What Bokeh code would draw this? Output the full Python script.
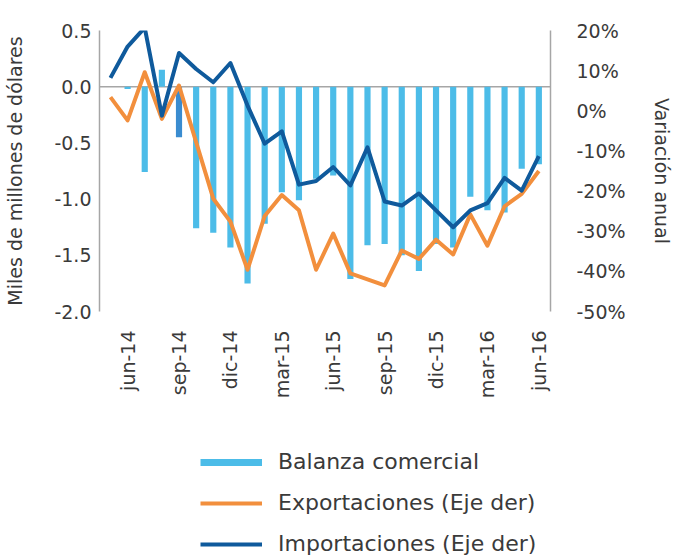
from bokeh.plotting import figure
from bokeh.layouts import column
from bokeh.models import (Range1d, LinearAxis, FixedTicker, Span, Legend, LegendItem,
                          NumeralTickFormatter, PrintfTickFormatter, ColumnDataSource)
from bokeh.embed import file_html
from bokeh.resources import INLINE
from math import pi

# ---------------- data ----------------
months = ["may-14", "jun-14", "jul-14", "ago-14", "sep-14", "oct-14", "nov-14", "dic-14",
          "ene-15", "feb-15", "mar-15", "abr-15", "may-15", "jun-15", "jul-15", "ago-15",
          "sep-15", "oct-15", "nov-15", "dic-15", "ene-16", "feb-16", "mar-16", "abr-16",
          "may-16", "jun-16"]
bar_months = months[1:]
balanza = [-0.02, -0.76, 0.15, -0.45, -1.26, -1.30, -1.43, -1.75, -1.22, -0.94, -1.01, -0.82,
           -0.79, -1.71, -1.41, -1.40, -1.50, -1.64, -1.40, -1.43, -0.98, -1.10, -1.12, -0.73,
           -0.69]
exportaciones = [3.4, -2.4, 9.6, -2.0, 6.3, -7.8, -21.9, -27.6, -39.6, -26.2, -21.0, -24.8,
                 -39.6, -30.6, -40.5, -42.0, -43.5, -34.8, -36.9, -32.1, -35.8, -25.8, -33.6,
                 -23.8, -20.7, -15.0]
importaciones = [8.2, 16.0, 20.7, -1.2, 14.4, 10.4, 7.1, 11.9, 1.3, -8.2, -5.1, -18.4, -17.5,
                 -14.0, -18.6, -9.1, -22.6, -23.6, -20.6, -24.8, -29.0, -24.8, -23.0, -16.7,
                 -19.9, -11.3]
tick_months = ["jun-14", "sep-14", "dic-14", "mar-15", "jun-15", "sep-15", "dic-15",
               "mar-16", "jun-16"]
left_ticks = [0.5, 0.0, -0.5, -1.0, -1.5, -2.0]
right_ticks = [20, 10, 0, -10, -20, -30, -40, -50]
series_names = ["Balanza comercial", "Exportaciones (Eje der)", "Importaciones (Eje der)"]
highlight_month = "sep-14"

# ---------------- style ----------------
FONT = "DejaVu Sans"
TXT = "#3a3a3a"
AXIS = "#a6a6a6"
C_BAR = "#4cbce8"
C_BAR_HI = "#3a8cd0"
C_EXP = "#f28f3d"
C_IMP = "#0f5a9c"

idx = {m: i for i, m in enumerate(months)}
x_line = [idx[m] for m in months]
x_bar = [idx[m] for m in bar_months]
bar_colors = [C_BAR_HI if m == highlight_month else C_BAR for m in bar_months]

p = figure(frame_width=451, frame_height=281, output_backend="svg", toolbar_location=None,
           x_range=Range1d(x_bar[0] - 1.64, x_bar[-1] + 0.68),
           y_range=Range1d(min(left_ticks), max(left_ticks)),
           min_border_left=99, min_border_right=10, min_border_top=30, min_border_bottom=125,
           outline_line_color=None, background_fill_color="white", border_fill_color="white")
p.extra_y_ranges = {"pct": Range1d(min(right_ticks), max(right_ticks))}
p.xgrid.visible = False
p.ygrid.visible = False

# bars
src = ColumnDataSource(dict(x=x_bar, top=balanza, color=bar_colors))
p.vbar(x="x", top="top", bottom=0, width=0.36, fill_color="color", line_color=None, source=src)

# zero line
p.add_layout(Span(location=0, dimension="width", line_color=AXIS, line_width=1.5,
                  level="underlay"))

# lines (right axis)
p.line(x_line, exportaciones, y_range_name="pct", line_color=C_EXP, line_width=4,
       line_join="round")
p.line(x_line, importaciones, y_range_name="pct", line_color=C_IMP, line_width=4,
       line_join="round")

# left axis
ya = p.yaxis[0]
ya.ticker = FixedTicker(ticks=left_ticks)
ya.formatter = NumeralTickFormatter(format="0.0")
ya.axis_label = "Miles de millones de dólares"

# right axis
ra = LinearAxis(y_range_name="pct", ticker=FixedTicker(ticks=right_ticks),
                formatter=PrintfTickFormatter(format="%d%%"), axis_label="Variación anual")
p.add_layout(ra, "right")

for ax in (ya, ra):
    ax.axis_line_color = AXIS
    ax.axis_line_width = 1.5
    ax.major_tick_line_color = None
    ax.minor_tick_line_color = None
    ax.major_tick_out = 0
    ax.major_label_text_font = FONT
    ax.major_label_text_font_size = "19px"
    ax.major_label_text_color = TXT
    ax.axis_label_text_font = FONT
    ax.axis_label_text_font_size = "19px"
    ax.axis_label_text_font_style = "normal"
    ax.axis_label_text_color = TXT
ya.major_label_standoff = 8
ya.axis_label_standoff = 25
ra.major_label_standoff = 26
ra.axis_label_standoff = 22

# x axis
xa = p.xaxis[0]
xa.ticker = FixedTicker(ticks=[idx[m] for m in tick_months])
xa.major_label_overrides = {idx[m]: m for m in tick_months}
xa.major_label_orientation = pi / 2
xa.axis_line_color = None
xa.major_tick_line_color = None
xa.minor_tick_line_color = None
xa.major_tick_out = 0
xa.major_label_standoff = 19
xa.major_label_text_font = FONT
xa.major_label_text_font_size = "19px"
xa.major_label_text_color = TXT

# ---------------- legend (separate strip below the chart) ----------------
lg = figure(width=674, height=123, output_backend="svg", toolbar_location=None,
            x_range=Range1d(0, 1), y_range=Range1d(0, 1), x_axis_location=None,
            y_axis_location=None, min_border=0, outline_line_color=None,
            background_fill_color="white", border_fill_color="white")
lg.xgrid.visible = False
lg.ygrid.visible = False
# sample renderers kept outside the visible range: only their legend glyphs show
off = [-10, -9]
l_bal = lg.line(x=off, y=off, line_color=C_BAR, line_width=7)
l_exp = lg.line(x=off, y=off, line_color=C_EXP, line_width=4)
l_imp = lg.line(x=off, y=off, line_color=C_IMP, line_width=4)
legend = Legend(items=[LegendItem(label=series_names[0], renderers=[l_bal]),
                       LegendItem(label=series_names[1], renderers=[l_exp]),
                       LegendItem(label=series_names[2], renderers=[l_imp])],
                orientation="vertical", location=(101, 3), border_line_color=None,
                background_fill_alpha=0, label_text_font=FONT, label_text_font_size="22px",
                label_text_color=TXT, glyph_width=62, glyph_height=22, spacing=16,
                label_standoff=16, padding=0, margin=0)
lg.add_layout(legend, "center")

layout = column(p, lg, spacing=0)
open("out.html", "w").write(file_html(layout, INLINE))
